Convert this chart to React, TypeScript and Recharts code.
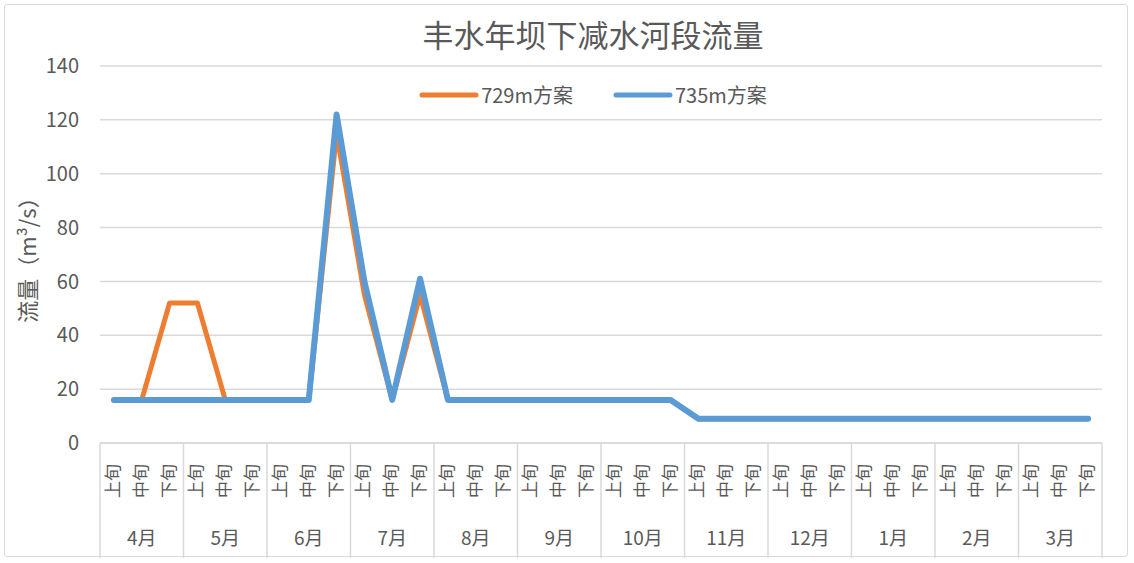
import { LineChart, Line, XAxis, YAxis, CartesianGrid } from 'recharts';

// 月份与旬
const months = ['4月', '5月', '6月', '7月', '8月', '9月', '10月', '11月', '12月', '1月', '2月', '3月'];
const dekads = ['上旬', '中旬', '下旬'];

// 流量 m3/s，按旬排列
const plan729 = [
  16, 16, 52, 52, 16, 16, 16, 16, 115, 55, 16, 55,
  16, 16, 16, 16, 16, 16, 16, 16, 16, 9, 9, 9,
  9, 9, 9, 9, 9, 9, 9, 9, 9, 9, 9, 9,
];
const plan735 = [
  16, 16, 16, 16, 16, 16, 16, 16, 122, 60, 16, 61,
  16, 16, 16, 16, 16, 16, 16, 16, 16, 9, 9, 9,
  9, 9, 9, 9, 9, 9, 9, 9, 9, 9, 9, 9,
];
const yTicks = [0, 20, 40, 60, 80, 100, 120, 140];

const series = [
  { key: 'a', name: '729m方案', color: '#ED7D31', width: 5 },
  { key: 'b', name: '735m方案', color: '#5B9BD5', width: 6 },
];

const data = plan729.map((v, i) => ({
  id: months[Math.floor(i / 3)] + dekads[i % 3],
  month: months[Math.floor(i / 3)],
  dekad: dekads[i % 3],
  a: v,
  b: plan735[i],
}));

const FONT = '"Noto Sans CJK SC", "Noto Sans", sans-serif';
const TEXT = '#595959';
const GRID = '#d9d9d9';
const HALF = 1002 / data.length / 2;

const XTick = (props: any) => {
  const { x, y, index } = props;
  const d = data[index];
  if (!d) return null;
  return (
    <g>
      <text
        transform={`translate(${x + 5},${y + 38}) rotate(-90)`}
        textAnchor="middle"
        fontSize={17}
        fill={TEXT}
        fontFamily={FONT}
      >
        {d.dekad}
      </text>
      {index % 3 === 1 && (
        <text x={x} y={y + 102} textAnchor="middle" fontSize={19} fill={TEXT} fontFamily={FONT}>
          {d.month}
        </text>
      )}
      {index % 3 === 0 && <line x1={x - HALF} x2={x - HALF} y1={y} y2={y + 115} stroke={GRID} strokeWidth={1.5} />}
      {index === data.length - 1 && (
        <line x1={x + HALF} x2={x + HALF} y1={y} y2={y + 115} stroke={GRID} strokeWidth={1.5} />
      )}
    </g>
  );
};

export default function App() {
  return (
    <div style={{ position: 'absolute', left: 0, top: 0, width: 1134, height: 563, background: '#fff' }}>
      <div
        style={{
          position: 'absolute', left: 4, top: 4, width: 1124, height: 553,
          border: '1px solid #d9d9d9', borderRadius: 3, boxSizing: 'border-box',
        }}
      />
      <div
        style={{
          position: 'absolute', left: 0, top: 14, width: 1134, textAlign: 'center', lineHeight: '40px',
          fontFamily: FONT, fontSize: 31, color: TEXT, paddingLeft: 52, boxSizing: 'border-box',
        }}
      >
        丰水年坝下减水河段流量
      </div>
      <div
        style={{
          position: 'absolute', left: 0, top: 82, width: 1134, display: 'flex', justifyContent: 'center',
          gap: 40, fontFamily: FONT, fontSize: 20, color: TEXT, lineHeight: '26px', paddingLeft: 52,
          boxSizing: 'border-box',
        }}
      >
        {series.map((s) => (
          <div key={s.key} style={{ display: 'flex', alignItems: 'center', gap: 2 }}>
            <svg width={60} height={10}>
              <line x1={3} x2={57} y1={5} y2={5} stroke={s.color} strokeWidth={5} strokeLinecap="round" />
            </svg>
            <span>{s.name}</span>
          </div>
        ))}
      </div>
      <div style={{ position: 'absolute', left: 0, top: 0 }}>
        <LineChart width={1134} height={563} data={data} margin={{ top: 66, right: 32, left: 40, bottom: 0 }}>
          <CartesianGrid vertical={false} stroke={GRID} strokeWidth={1.5} />
          <XAxis
            dataKey="id"
            interval={0}
            height={120}
            padding={{ left: HALF, right: HALF }}
            tickSize={0}
            tickMargin={0}
            tickLine={false}
            axisLine={{ stroke: GRID, strokeWidth: 1.5 }}
            tick={<XTick />}
          />
          <YAxis
            width={60}
            domain={[0, 140]}
            ticks={yTicks}
            interval={0}
            axisLine={false}
            tickLine={false}
            tickSize={0}
            tickMargin={21}
            tick={{ fontSize: 20, fill: TEXT, fontFamily: FONT }}
            label={{
              value: '流量（m³/s）', angle: -90, position: 'insideLeft', offset: -12,
              style: { fontSize: 22, fill: TEXT, fontFamily: FONT, textAnchor: 'middle' },
            }}
          />
          {series.map((s) => (
            <Line
              key={s.key}
              dataKey={s.key}
              name={s.name}
              stroke={s.color}
              strokeWidth={s.width}
              dot={false}
              isAnimationActive={false}
              strokeLinejoin="round"
              strokeLinecap="round"
            />
          ))}
        </LineChart>
      </div>
    </div>
  );
}
